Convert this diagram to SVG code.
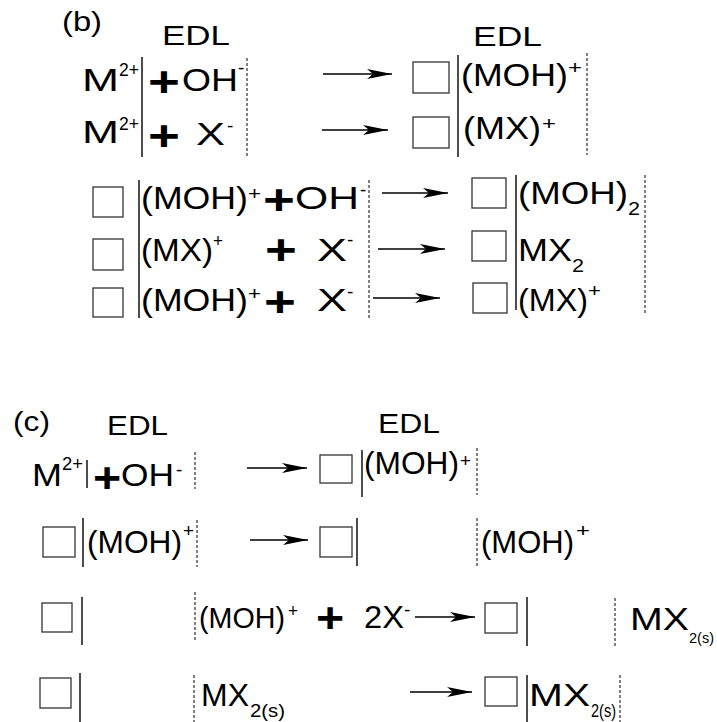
<svg xmlns="http://www.w3.org/2000/svg" width="717" height="722" viewBox="0 0 717 722">
  <style>
    text { font-family: "Liberation Sans", Arial, sans-serif; fill: #000; }
    .m { font-size: 32px; }
    .h { font-size: 27px; }
    .s { font-size: 19px; }
    .ss { font-size: 19px; }
    .p { font-size: 42px; font-weight: bold; text-anchor: middle; }
    .box { fill: #fff; stroke: #333; stroke-width: 1.3; }
    .edl { stroke: #000; stroke-width: 1.4; }
    .dot { stroke: #000; stroke-width: 1; stroke-dasharray: 3 2; }
    .arr { stroke: #000; stroke-width: 1.3; fill: none; marker-end: url(#ah); }
  </style>
  <defs>
    <marker id="ah" markerUnits="userSpaceOnUse" markerWidth="26" markerHeight="10" refX="25" refY="5" orient="auto" overflow="visible">
      <path d="M0,0 L25,5 L0,10 L6,5 Z" fill="#000"/>
    </marker>
  </defs>
  <rect width="717" height="722" fill="#fff"/>

  <!-- panel (b) -->
  <g id="b-label">
    <text class="h" x="62" y="31" textLength="40" lengthAdjust="spacingAndGlyphs">(b)</text>
    <text class="h" x="162" y="45" textLength="68" lengthAdjust="spacingAndGlyphs">EDL</text>
    <text class="h" x="473" y="46" textLength="69" lengthAdjust="spacingAndGlyphs">EDL</text>
  </g>

  <g id="b-row1-left">
    <text class="m" x="82" y="91" textLength="37" lengthAdjust="spacingAndGlyphs">M</text>
    <text class="s" x="119" y="76" textLength="20" lengthAdjust="spacingAndGlyphs">2+</text>
    <line class="edl" x1="142" y1="57" x2="142" y2="157"/>
    <text class="p" transform="translate(164,96) scale(1.3,1)">+</text>
    <text class="m" x="182" y="91" textLength="56" lengthAdjust="spacingAndGlyphs">OH</text>
    <text class="s" x="238" y="74">-</text>
    <line class="dot" x1="247" y1="58" x2="247" y2="158"/>
  </g>
  <g id="b-row2-left">
    <text class="m" x="82" y="143" textLength="37" lengthAdjust="spacingAndGlyphs">M</text>
    <text class="s" x="119" y="130" textLength="20" lengthAdjust="spacingAndGlyphs">2+</text>
    <text class="p" transform="translate(164,150) scale(1.3,1)">+</text>
    <text class="m" x="196" y="145" textLength="29" lengthAdjust="spacingAndGlyphs">X</text>
    <text class="s" x="227" y="132">-</text>
  </g>
  <g id="b-row12-right">
    <rect class="box" x="413" y="62" width="36" height="31"/>
    <rect class="box" x="413" y="117" width="36" height="31"/>
    <line class="edl" x1="458" y1="55" x2="458" y2="157"/>
    <text class="m" x="461" y="86" textLength="107" lengthAdjust="spacingAndGlyphs">(MOH)</text>
    <text class="s" x="568" y="74" textLength="14" lengthAdjust="spacingAndGlyphs">+</text>
    <text class="m" x="463" y="139" textLength="78" lengthAdjust="spacingAndGlyphs">(MX)</text>
    <text class="s" x="542" y="130" textLength="14" lengthAdjust="spacingAndGlyphs">+</text>
    <line class="dot" x1="587" y1="53" x2="587" y2="155"/>
  </g>

  <g id="b-rows345-left">
    <rect class="box" x="93" y="187" width="30" height="30"/>
    <rect class="box" x="93" y="239" width="30" height="31"/>
    <rect class="box" x="93" y="288" width="30" height="29"/>
    <line class="edl" x1="139" y1="180" x2="139" y2="318"/>
    <text class="m" x="141" y="209" textLength="107" lengthAdjust="spacingAndGlyphs">(MOH)</text>
    <text class="s" x="248" y="200" textLength="13" lengthAdjust="spacingAndGlyphs">+</text>
    <text class="p" transform="translate(279,214) scale(1.3,1)">+</text>
    <text class="m" x="295" y="209" textLength="64" lengthAdjust="spacingAndGlyphs">OH</text>
    <text class="s" x="360" y="196">-</text>
    <text class="m" x="141" y="261" textLength="72" lengthAdjust="spacingAndGlyphs">(MX)</text>
    <text class="s" x="213" y="247" textLength="10" lengthAdjust="spacingAndGlyphs">+</text>
    <text class="p" transform="translate(281,264) scale(1.3,1)">+</text>
    <text class="m" x="317" y="261" textLength="30" lengthAdjust="spacingAndGlyphs">X</text>
    <text class="s" x="347" y="246">-</text>
    <text class="m" x="141" y="311" textLength="107" lengthAdjust="spacingAndGlyphs">(MOH)</text>
    <text class="s" x="248" y="300" textLength="13" lengthAdjust="spacingAndGlyphs">+</text>
    <text class="p" transform="translate(280,316) scale(1.3,1)">+</text>
    <text class="m" x="317" y="311" textLength="30" lengthAdjust="spacingAndGlyphs">X</text>
    <text class="s" x="347" y="298">-</text>
    <line class="dot" x1="369" y1="180" x2="369" y2="318"/>
  </g>
  <g id="b-rows345-right">
    <rect class="box" x="472" y="178" width="34" height="30"/>
    <rect class="box" x="472" y="231" width="34" height="30"/>
    <rect class="box" x="473" y="283" width="34" height="30"/>
    <line class="edl" x1="516" y1="175" x2="516" y2="310"/>
    <text class="m" x="518" y="204" textLength="110" lengthAdjust="spacingAndGlyphs">(MOH)</text>
    <text class="s" x="628" y="215" textLength="12" lengthAdjust="spacingAndGlyphs">2</text>
    <text class="m" x="518" y="261" textLength="54" lengthAdjust="spacingAndGlyphs">MX</text>
    <text class="s" x="572" y="272" textLength="12" lengthAdjust="spacingAndGlyphs">2</text>
    <text class="m" x="518" y="311" textLength="70" lengthAdjust="spacingAndGlyphs">(MX)</text>
    <text class="s" x="588" y="297" textLength="13" lengthAdjust="spacingAndGlyphs">+</text>
    <line class="dot" x1="645" y1="175" x2="645" y2="315"/>
  </g>

  <!-- panel (c) -->
  <g id="c-label">
    <text class="h" x="13" y="431" textLength="37" lengthAdjust="spacingAndGlyphs">(c)</text>
    <text class="h" x="107" y="435" textLength="61" lengthAdjust="spacingAndGlyphs">EDL</text>
    <text class="h" x="378" y="433" textLength="62" lengthAdjust="spacingAndGlyphs">EDL</text>
  </g>

  <g id="c-row1-left">
    <text class="m" x="32" y="486" textLength="30" lengthAdjust="spacingAndGlyphs">M</text>
    <text class="s" x="62" y="470" textLength="21" lengthAdjust="spacingAndGlyphs">2+</text>
    <line class="edl" x1="87" y1="460" x2="87" y2="488"/>
    <text class="p" transform="translate(107,492) scale(1.15,1)">+</text>
    <text class="m" x="121" y="486" textLength="53" lengthAdjust="spacingAndGlyphs">OH</text>
    <text class="s" x="176" y="476">-</text>
    <line class="dot" x1="195" y1="452" x2="195" y2="489"/>
  </g>
  <g id="c-row1-right">
    <rect class="box" x="320" y="455" width="32" height="28"/>
    <line class="edl" x1="362" y1="450" x2="362" y2="497"/>
    <text class="m" x="364" y="474" textLength="95" lengthAdjust="spacingAndGlyphs">(MOH)</text>
    <text class="s" x="460" y="467" textLength="11" lengthAdjust="spacingAndGlyphs">+</text>
    <line class="dot" x1="477" y1="448" x2="477" y2="495"/>
  </g>

  <g id="c-row2-left">
    <rect class="box" x="43" y="527" width="32" height="30"/>
    <line class="edl" x1="83" y1="518" x2="83" y2="567"/>
    <text class="m" x="87" y="553" textLength="95" lengthAdjust="spacingAndGlyphs">(MOH)</text>
    <text class="s" x="183" y="537" textLength="11" lengthAdjust="spacingAndGlyphs">+</text>
    <line class="dot" x1="197" y1="520" x2="197" y2="567"/>
  </g>
  <g id="c-row2-right">
    <rect class="box" x="320" y="527" width="32" height="30"/>
    <line class="edl" x1="357" y1="518" x2="357" y2="566"/>
    <line class="dot" x1="477" y1="518" x2="477" y2="567"/>
    <text class="m" x="481" y="553" textLength="93" lengthAdjust="spacingAndGlyphs">(MOH)</text>
    <text class="s" x="576" y="537" textLength="14" lengthAdjust="spacingAndGlyphs">+</text>
  </g>

  <g id="c-row3-left">
    <rect class="box" x="42" y="603" width="30" height="29"/>
    <line class="edl" x1="82" y1="597" x2="82" y2="645"/>
    <line class="dot" x1="195" y1="592" x2="195" y2="640"/>
    <text x="199" y="628" font-size="29" textLength="86" lengthAdjust="spacingAndGlyphs">(MOH)</text>
    <text class="s" x="288" y="617" textLength="10" lengthAdjust="spacingAndGlyphs">+</text>
    <text class="p" transform="translate(330,632) scale(1.15,1)">+</text>
    <text class="m" x="364" y="628" textLength="40" lengthAdjust="spacingAndGlyphs">2X</text>
    <text class="s" x="404" y="616">-</text>
  </g>
  <g id="c-row3-right">
    <rect class="box" x="485" y="603" width="32" height="30"/>
    <line class="edl" x1="527" y1="597" x2="527" y2="646"/>
    <line class="dot" x1="615" y1="598" x2="615" y2="646"/>
    <text class="m" x="630" y="630" textLength="59" lengthAdjust="spacingAndGlyphs">MX</text>
    <text x="689" y="643" font-size="15" textLength="25" lengthAdjust="spacingAndGlyphs">2(s)</text>
  </g>

  <g id="c-row4-left">
    <rect class="box" x="40" y="678" width="31" height="30"/>
    <line class="edl" x1="80" y1="673" x2="80" y2="722"/>
    <line class="dot" x1="194" y1="675" x2="194" y2="722"/>
    <text class="m" x="201" y="706" textLength="48" lengthAdjust="spacingAndGlyphs">MX</text>
    <text class="ss" x="250" y="717" textLength="35" lengthAdjust="spacingAndGlyphs">2(s)</text>
  </g>
  <g id="c-row4-right">
    <rect class="box" x="485" y="677" width="32" height="29"/>
    <line class="edl" x1="527" y1="675" x2="527" y2="722"/>
    <text class="m" x="529" y="706" textLength="61" lengthAdjust="spacingAndGlyphs">MX</text>
    <text class="ss" x="591" y="717" textLength="25" lengthAdjust="spacingAndGlyphs">2(s)</text>
    <line class="dot" x1="620" y1="675" x2="620" y2="722"/>
  </g>

  <g id="connectors">
    <line class="arr" x1="323" y1="74" x2="392" y2="74"/>
    <line class="arr" x1="322" y1="130" x2="388" y2="130"/>
    <line class="arr" x1="382" y1="193" x2="448" y2="193"/>
    <line class="arr" x1="378" y1="249" x2="445" y2="249"/>
    <line class="arr" x1="373" y1="298" x2="440" y2="298"/>
    <line class="arr" x1="247" y1="468" x2="307" y2="468"/>
    <line class="arr" x1="250" y1="540" x2="308" y2="540"/>
    <line class="arr" x1="415" y1="617" x2="475" y2="617"/>
    <line class="arr" x1="410" y1="692" x2="472" y2="692"/>
  </g>
</svg>
